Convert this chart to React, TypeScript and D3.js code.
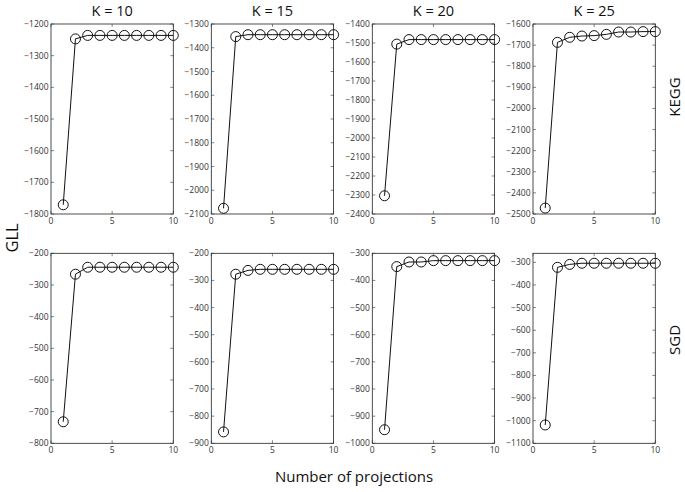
import React from "react";
import * as d3 from "d3";

const projections = [1, 2, 3, 4, 5, 6, 7, 8, 9, 10];
const kLabels = ["K = 10", "K = 15", "K = 20", "K = 25"];
const rowLabels = ["KEGG", "SGD"];

const kegg10 = [-1771, -1247, -1236, -1236, -1236, -1236, -1236, -1236, -1236, -1236];
const kegg15 = [-2076, -1353, -1345, -1345, -1345, -1345, -1345, -1345, -1345, -1345];
const kegg20 = [-2304, -1506, -1482, -1482, -1482, -1482, -1482, -1482, -1482, -1482];
const kegg25 = [-2472, -1687, -1663, -1657, -1655, -1649, -1638, -1638, -1636, -1636];
const sgd10 = [-732, -266, -244, -244, -244, -244, -244, -244, -244, -244];
const sgd15 = [-858, -277, -263, -259, -259, -259, -259, -259, -259, -259];
const sgd20 = [-950, -349, -332, -332, -327, -327, -327, -327, -327, -327];
const sgd25 = [-1019, -322, -309, -304, -304, -304, -304, -304, -304, -304];

const keggDomains: [number, number][] = [[-1800, -1200], [-2100, -1300], [-2400, -1400], [-2500, -1600]];
const sgdDomains: [number, number][] = [[-800, -200], [-900, -200], [-1000, -300], [-1100, -260]];
const xTicks = [0, 5, 10];

const rows = [
  [kegg10, kegg15, kegg20, kegg25],
  [sgd10, sgd15, sgd20, sgd25],
];
const domains = [keggDomains, sgdDomains];

const W = 685;
const H = 492;
const panelLefts = [51, 211.3, 372.3, 533];
const panelW = 122.3;
const panelTops = [24, 253.3];
const panelH = 190;
const font = "'Open Sans', 'DejaVu Sans', sans-serif";

function Panel({ left, top, data, domain }: { left: number; top: number; data: number[]; domain: [number, number] }) {
  const x = d3.scaleLinear().domain([0, 10]).range([left, left + panelW]);
  const y = d3.scaleLinear().domain(domain).range([top + panelH, top]);
  const yTicks = d3.range(Math.ceil(domain[0] / 100) * 100, domain[1] + 1, 100);
  const line = d3
    .line<number>()
    .x((_, i) => x(projections[i]))
    .y((d) => y(d));
  const tl = 3;
  return (
    <g>
      <rect x={left} y={top} width={panelW} height={panelH} fill="white" stroke="#222" strokeWidth={0.8} />
      {yTicks.map((t) => (
        <g key={"y" + t}>
          <line x1={left} x2={left + tl} y1={y(t)} y2={y(t)} stroke="#333" strokeWidth={0.6} />
          <line x1={left + panelW - tl} x2={left + panelW} y1={y(t)} y2={y(t)} stroke="#333" strokeWidth={0.6} />
          <text x={left - 2.5} y={y(t) + 3} fontSize={8.5} fill="#333" textAnchor="end" fontFamily={font}>
            {"\u2212" + Math.abs(t)}
          </text>
        </g>
      ))}
      {xTicks.map((t) => (
        <g key={"x" + t}>
          <line x1={x(t)} x2={x(t)} y1={top + panelH} y2={top + panelH - tl} stroke="#333" strokeWidth={0.6} />
          <line x1={x(t)} x2={x(t)} y1={top} y2={top + tl} stroke="#333" strokeWidth={0.6} />
          <text x={x(t)} y={top + panelH + 10} fontSize={8.5} fill="#333" textAnchor="middle" fontFamily={font}>
            {t}
          </text>
        </g>
      ))}
      <path d={line(data) || ""} fill="none" stroke="#111" strokeWidth={1} />
      {data.map((d, i) => (
        <circle key={i} cx={x(projections[i])} cy={y(d)} r={5} fill="none" stroke="#111" strokeWidth={1} />
      ))}
    </g>
  );
}

export default function App() {
  return (
    <svg width={W} height={H} style={{ position: "absolute", left: 0, top: 0, background: "white" }}>
      <rect width={W} height={H} fill="white" />
      {rows.map((row, r) =>
        row.map((data, c) => (
          <Panel key={r + "-" + c} left={panelLefts[c]} top={panelTops[r]} data={data} domain={domains[r][c]} />
        ))
      )}
      {kLabels.map((k, c) => (
        <text key={k} x={panelLefts[c] + panelW / 2} y={16} fontSize={14.5} textAnchor="middle" fontFamily={font} fill="#111">
          {k}
        </text>
      ))}
      <text transform={`translate(680,97) rotate(-90)`} fontSize={15} textAnchor="middle" fontFamily={font} fill="#111">
        {rowLabels[0]}
      </text>
      <text transform={`translate(680,340) rotate(-90)`} fontSize={15} textAnchor="middle" fontFamily={font} fill="#111">
        {rowLabels[1]}
      </text>
      <text transform={`translate(18,238) rotate(-90)`} fontSize={16.5} textAnchor="middle" fontFamily={font} fill="#111">
        GLL
      </text>
      <text x={354} y={482} fontSize={15} textAnchor="middle" fontFamily={font} fill="#111">
        Number of projections
      </text>
    </svg>
  );
}
